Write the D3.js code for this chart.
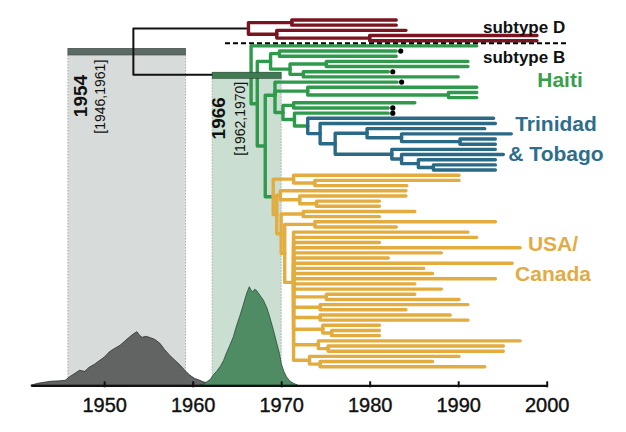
<!DOCTYPE html>
<html><head><meta charset="utf-8">
<script src="https://cdn.jsdelivr.net/npm/d3@7"></script>
<style>
body{margin:0;background:#fff}
svg{display:block}
text{font-family:"Liberation Sans",Arial,Helvetica,sans-serif}
</style>
</head><body>
<svg id="chart" width="626" height="432"></svg>
<script>
// ---------------- DATA ----------------
const axisTicks = [1950, 1960, 1970, 1980, 1990, 2000];

// tree: [id, parentId, node date (year), clade]
const treeNodes = [
  ["root", "", 1953.3, "k"],
  ["dRoot", "root", 1966.3, "k"],
  ["d1", "dRoot", 1971.2, "D"],
  ["dA", "d1", 1983.0, "D"],
  ["dB", "d1", 1983.0, "D"],
  ["d2", "dRoot", 1969.5, "D"],
  ["dC", "d2", 1984.1, "D"],
  ["d3", "d2", 1980.0, "D"],
  ["dD", "d3", 1998.9, "D"],
  ["dE", "d3", 1998.9, "D"],
  ["bRoot", "root", 1966.6, "k"],
  ["b0", "bRoot", 1992.1, "H"],
  ["n1", "bRoot", 1967.3, "H"],
  ["h0", "n1", 1968.8, "H"],
  ["h1", "h0", 1969.8, "H"],
  ["hA", "h1", 1983.0, "H"],
  ["hB", "h1", 1983.0, "H"],
  ["h2", "h0", 1971.0, "H"],
  ["h3", "h2", 1975.1, "H"],
  ["hC", "h3", 1991.1, "H"],
  ["hD", "h3", 1991.1, "H"],
  ["h4", "h2", 1972.5, "H"],
  ["hE", "h4", 1982.1, "H"],
  ["hF", "h4", 1990.0, "H"],
  ["n2", "n1", 1968.2, "H"],
  ["lh", "n2", 1969.3, "H"],
  ["hG", "lh", 1983.1, "H"],
  ["b1", "lh", 1973.0, "H"],
  ["hH", "b1", 1992.1, "H"],
  ["b2", "b1", 1988.9, "H"],
  ["hI", "b2", 1992.1, "H"],
  ["hJ", "b2", 1992.1, "H"],
  ["he", "lh", 1970.2, "H"],
  ["hc", "he", 1971.4, "H"],
  ["hK", "hc", 1985.1, "H"],
  ["hL", "hc", 1982.1, "H"],
  ["hd", "he", 1971.5, "H"],
  ["hM", "hd", 1982.1, "H"],
  ["t0", "hd", 1973.0, "H"],
  ["tA", "t0", 1994.0, "T"],
  ["t1", "t0", 1974.4, "T"],
  ["tB", "t1", 1994.2, "T"],
  ["t2", "t1", 1976.1, "T"],
  ["t3", "t2", 1979.7, "T"],
  ["tC", "t3", 1993.0, "T"],
  ["t4", "t3", 1983.6, "T"],
  ["tD", "t4", 1996.0, "T"],
  ["t4b", "t4", 1990.2, "T"],
  ["tE", "t4b", 1994.2, "T"],
  ["tF", "t4b", 1994.2, "T"],
  ["t5", "t2", 1982.5, "T"],
  ["tG", "t5", 1994.2, "T"],
  ["t6", "t5", 1983.6, "T"],
  ["tH", "t6", 1995.1, "T"],
  ["t7", "t6", 1985.5, "T"],
  ["tI", "t7", 1994.2, "T"],
  ["t8", "t7", 1987.2, "T"],
  ["tJ", "t8", 1994.2, "T"],
  ["tK", "t8", 1994.2, "T"],
  ["u0", "n2", 1969.1, "H"],
  ["u1", "u0", 1971.4, "U"],
  ["uA", "u1", 1990.1, "U"],
  ["u1b", "u1", 1973.8, "U"],
  ["uB", "u1b", 1990.1, "U"],
  ["uC", "u1b", 1984.2, "U"],
  ["v", "u0", 1969.5, "U"],
  ["u3", "v", 1969.9, "U"],
  ["uD", "u3", 1984.1, "U"],
  ["u3b", "u3", 1972.1, "U"],
  ["uE", "u3b", 1984.1, "U"],
  ["u3c", "u3b", 1974.0, "U"],
  ["uF", "u3c", 1981.1, "U"],
  ["uG", "u3c", 1981.1, "U"],
  ["q", "v", 1970.0, "U"],
  ["u5", "q", 1972.5, "U"],
  ["uH", "u5", 1985.1, "U"],
  ["uI", "u5", 1981.1, "U"],
  ["r", "q", 1970.4, "U"],
  ["u7", "r", 1973.8, "U"],
  ["uJ", "u7", 1994.2, "U"],
  ["uK", "u7", 1983.0, "U"],
  ["p", "r", 1971.4, "U"],
  ["uL", "p", 1991.1, "U"],
  ["uM", "p", 1992.1, "U"],
  ["uN", "p", 1981.1, "U"],
  ["uO", "p", 1997.0, "U"],
  ["uP", "p", 1988.1, "U"],
  ["uQ", "p", 1982.1, "U"],
  ["uR", "p", 1996.1, "U"],
  ["uS", "p", 1986.1, "U"],
  ["uT", "p", 1987.1, "U"],
  ["uU", "p", 1994.2, "U"],
  ["uV", "p", 1985.1, "U"],
  ["uW", "p", 1988.1, "U"],
  ["c1", "p", 1975.1, "U"],
  ["x24", "c1", 1985.1, "U"],
  ["x25", "c1", 1990.1, "U"],
  ["c2", "p", 1974.4, "U"],
  ["x26", "c2", 1991.1, "U"],
  ["x27", "c2", 1984.1, "U"],
  ["c3", "p", 1974.4, "U"],
  ["x28", "c3", 1989.1, "U"],
  ["x29", "c3", 1991.1, "U"],
  ["c4", "p", 1974.7, "U"],
  ["x30", "c4", 1981.1, "U"],
  ["c4b", "c4", 1975.7, "U"],
  ["x31", "c4b", 1981.1, "U"],
  ["x32", "c4b", 1981.1, "U"],
  ["c5", "p", 1974.2, "U"],
  ["x33", "c5", 1997.0, "U"],
  ["c5b", "c5", 1975.3, "U"],
  ["x34", "c5b", 1995.1, "U"],
  ["x35", "c5b", 1995.1, "U"],
  ["c6", "p", 1973.2, "U"],
  ["x36", "c6", 1990.1, "U"],
  ["c6b", "c6", 1974.4, "U"],
  ["x37", "c6b", 1987.1, "U"],
  ["x38", "c6b", 1993.0, "U"]
];
const markedLeaves = ["hA", "hE", "hG", "hL", "hM"];

const cladeColors = { k: "#111111", D: "#7a1420", H: "#2f9a4c", T: "#2b6a86", U: "#e2ac3f" };

// tMRCA posterior densities
const rootDensityYears = [1941.7, 1942.5, 1943.9, 1945.0, 1945.6, 1946.1, 1946.7, 1947.2, 1947.8, 1948.3, 1948.9, 1949.5, 1950.0, 1950.6, 1951.2, 1951.8, 1952.3, 1952.9, 1953.4, 1953.7, 1954.0, 1954.3, 1954.7, 1955.1, 1955.7, 1956.3, 1956.8, 1957.4, 1958.0, 1958.6, 1959.1, 1959.7, 1960.2, 1960.8, 1961.2, 1961.6, 1962.1, 1962.7];
const rootDensity = [0, 2, 4, 4.5, 5, 8.6, 12, 15, 14, 18, 21, 25, 28, 33.6, 37, 40, 44, 48.6, 52, 53.6, 50, 48, 49, 48, 46, 42, 36, 30, 25, 20, 15, 10, 7, 5, 3.5, 2.6, 1.5, 0];
const bDensityYears = [1960.8, 1961.2, 1961.6, 1962.0, 1962.3, 1962.7, 1963.1, 1963.5, 1963.8, 1964.2, 1964.6, 1964.9, 1965.3, 1965.7, 1966.1, 1966.4, 1966.6, 1966.8, 1967.0, 1967.2, 1967.6, 1968.0, 1968.4, 1968.7, 1969.1, 1969.5, 1969.8, 1970.0, 1970.3, 1970.6, 1971.0, 1971.4, 1971.9];
const bDensity = [0, 1, 3.6, 6, 10, 14, 18.6, 25, 32, 40, 48.6, 58, 68.6, 80, 92, 98.6, 95, 93.6, 96, 95, 90, 85, 77, 68.6, 56, 42, 32, 22, 14, 8.6, 4, 2, 0];

// HPD intervals (as drawn) and their labels
const rootHpd = [1945.9, 1959.2];
const bHpd = [1962.2, 1970.0];
const rootLabel = ["1954", "[1946,1961]"];
const bLabel = ["1966", "[1962,1970]"];

const groupLabels = [
  { lines: ["Haiti"], color: "#3a9f49" },
  { lines: ["Trinidad", "& Tobago"], color: "#2e6e8c" },
  { lines: ["USA/", "Canada"], color: "#e2ab44" }
];

// ---------------- DRAW ----------------
const svg = d3.select("#chart");
const x = d3.scaleLinear().domain([1941.7, 2000]).range([30.7, 546.7]);
const axisY = 385.3;
const nLeaves = treeNodes.filter(n => !treeNodes.some(m => m[1] === n[0])).length;
const yLeaf = d3.scaleLinear().domain([0, nLeaves - 1]).range([20, 366.7]);
const yDens = d3.scaleLinear().domain([0, 100]).range([axisY, axisY - 100]);

// HPD boxes
const boxes = [
  { iv: rootHpd, top: 55, fill: "#d7dbda", bar: "#5d6b66", barTop: 48.3 },
  { iv: bHpd, top: 78.3, fill: "#cadfd1", bar: "#3e7a52", barTop: 72.2 }
];
svg.selectAll("rect.box").data(boxes).join("rect")
  .attr("class", "box")
  .attr("x", d => x(d.iv[0])).attr("width", d => x(d.iv[1]) - x(d.iv[0]))
  .attr("y", d => d.top).attr("height", d => axisY - d.top)
  .attr("fill", d => d.fill);
boxes.forEach(b => {
  b.iv.forEach(v => {
    svg.append("line").attr("x1", x(v)).attr("x2", x(v)).attr("y1", b.top).attr("y2", axisY)
      .attr("stroke", "#a9adab").attr("stroke-width", 1).attr("stroke-dasharray", "1.5,1.5");
  });
});
// grey bar below tree
svg.append("rect").attr("x", x(rootHpd[0])).attr("width", x(rootHpd[1]) - x(rootHpd[0]))
  .attr("y", boxes[0].barTop).attr("height", boxes[0].top - boxes[0].barTop)
  .attr("fill", boxes[0].bar).attr("stroke", "#3a4440").attr("stroke-width", 0.6);

// densities
const area = d3.area().x(d => x(d[0])).y0(axisY).y1(d => yDens(d[1]));
svg.append("path").datum(d3.zip(rootDensityYears, rootDensity)).attr("d", area)
  .attr("fill", "#5e605f").attr("stroke", "#2f3130").attr("stroke-width", 0.8).attr("fill-opacity", 0.97);
svg.append("path").datum(d3.zip(bDensityYears, bDensity)).attr("d", area)
  .attr("fill", "#4f8c63").attr("stroke", "#2b4a36").attr("stroke-width", 0.8);

// tree
const root = d3.stratify().id(d => d[0]).parentId(d => d[1] || null)(treeNodes);
root.leaves().forEach((l, i) => { l.y = yLeaf(i); });
root.eachAfter(n => { if (n.children) n.y = d3.mean(n.children, c => c.y); n.x = x(n.data[2]); });

const branches = root.descendants().filter(d => d.parent);
branches.sort((a, b) => (a.data[3] === "k" ? 0 : 1) - (b.data[3] === "k" ? 0 : 1));
svg.append("g").selectAll("path").data(branches).join("path")
  .attr("d", d => `M${d.parent.x},${d.parent.y}V${d.y}H${d.x}`)
  .attr("fill", "none")
  .attr("stroke", d => cladeColors[d.data[3]])
  .attr("stroke-width", d => d.data[3] === "k" ? 2 : 3.4)
  .attr("stroke-linejoin", "round")
  .attr("stroke-linecap", d => d.data[3] === "k" ? "butt" : "round");

svg.append("g").selectAll("circle")
  .data(root.leaves().filter(l => markedLeaves.includes(l.id))).join("circle")
  .attr("cx", d => d.x + 4.5).attr("cy", d => d.y).attr("r", 2.6).attr("fill", "#000");

// green bar on top
svg.append("rect").attr("x", x(bHpd[0])).attr("width", x(bHpd[1]) - x(bHpd[0]))
  .attr("y", boxes[1].barTop).attr("height", boxes[1].top - boxes[1].barTop)
  .attr("fill", boxes[1].bar).attr("stroke", "#22402d").attr("stroke-width", 0.6);

// subtype separator
svg.append("line").attr("x1", 225).attr("x2", 568).attr("y1", 43.3).attr("y2", 43.3)
  .attr("stroke", "#000").attr("stroke-width", 2).attr("stroke-dasharray", "5,3");
svg.append("text").attr("x", 483).attr("y", 32.5).text("subtype D")
  .attr("font-size", 17).attr("font-weight", "bold").attr("fill", "#111");
svg.append("text").attr("x", 483).attr("y", 62.5).text("subtype B")
  .attr("font-size", 17).attr("font-weight", "bold").attr("fill", "#111");

// HPD labels (rotated)
function vlabel(txt, bx, cy, size, weight) {
  svg.append("text").attr("transform", `translate(${bx},${cy}) rotate(-90)`)
    .attr("text-anchor", "middle").attr("font-size", size).attr("font-weight", weight)
    .attr("fill", "#111").text(txt);
}
vlabel(rootLabel[0], 87, 96, 19, "bold");
vlabel(rootLabel[1], 105, 96.7, 14, "normal");
vlabel(bLabel[0], 225, 118.3, 19, "bold");
vlabel(bLabel[1], 245, 118.8, 14, "normal");

// group labels
const glPos = [{ cx: 560, y: [87] }, { cx: 556, y: [130.5, 160.5] }, { cx: 553, y: [251, 281] }];
groupLabels.forEach((g, i) => {
  g.lines.forEach((t, j) => {
    svg.append("text").attr("x", glPos[i].cx).attr("y", glPos[i].y[j]).attr("text-anchor", "middle")
      .attr("font-size", 21).attr("font-weight", "bold").attr("fill", g.color).text(t);
  });
});

// axis
const axis = d3.axisBottom(x).tickValues(axisTicks).tickFormat(d3.format("d"))
  .tickSizeInner(-4).tickSizeOuter(0).tickPadding(12.5);
const ag = svg.append("g").attr("transform", `translate(0,${axisY})`).call(axis);
ag.select(".domain").attr("stroke", "#111").attr("stroke-width", 2.2);
ag.selectAll(".tick line").attr("stroke", "#111").attr("stroke-width", 2).attr("y1", 2);
ag.selectAll(".tick text").attr("font-size", 20).attr("fill", "#111")
  .attr("stroke", "#111").attr("stroke-width", 0.4)
  .attr("font-family", "'Liberation Sans', Arial, sans-serif");
</script>
</body></html>
